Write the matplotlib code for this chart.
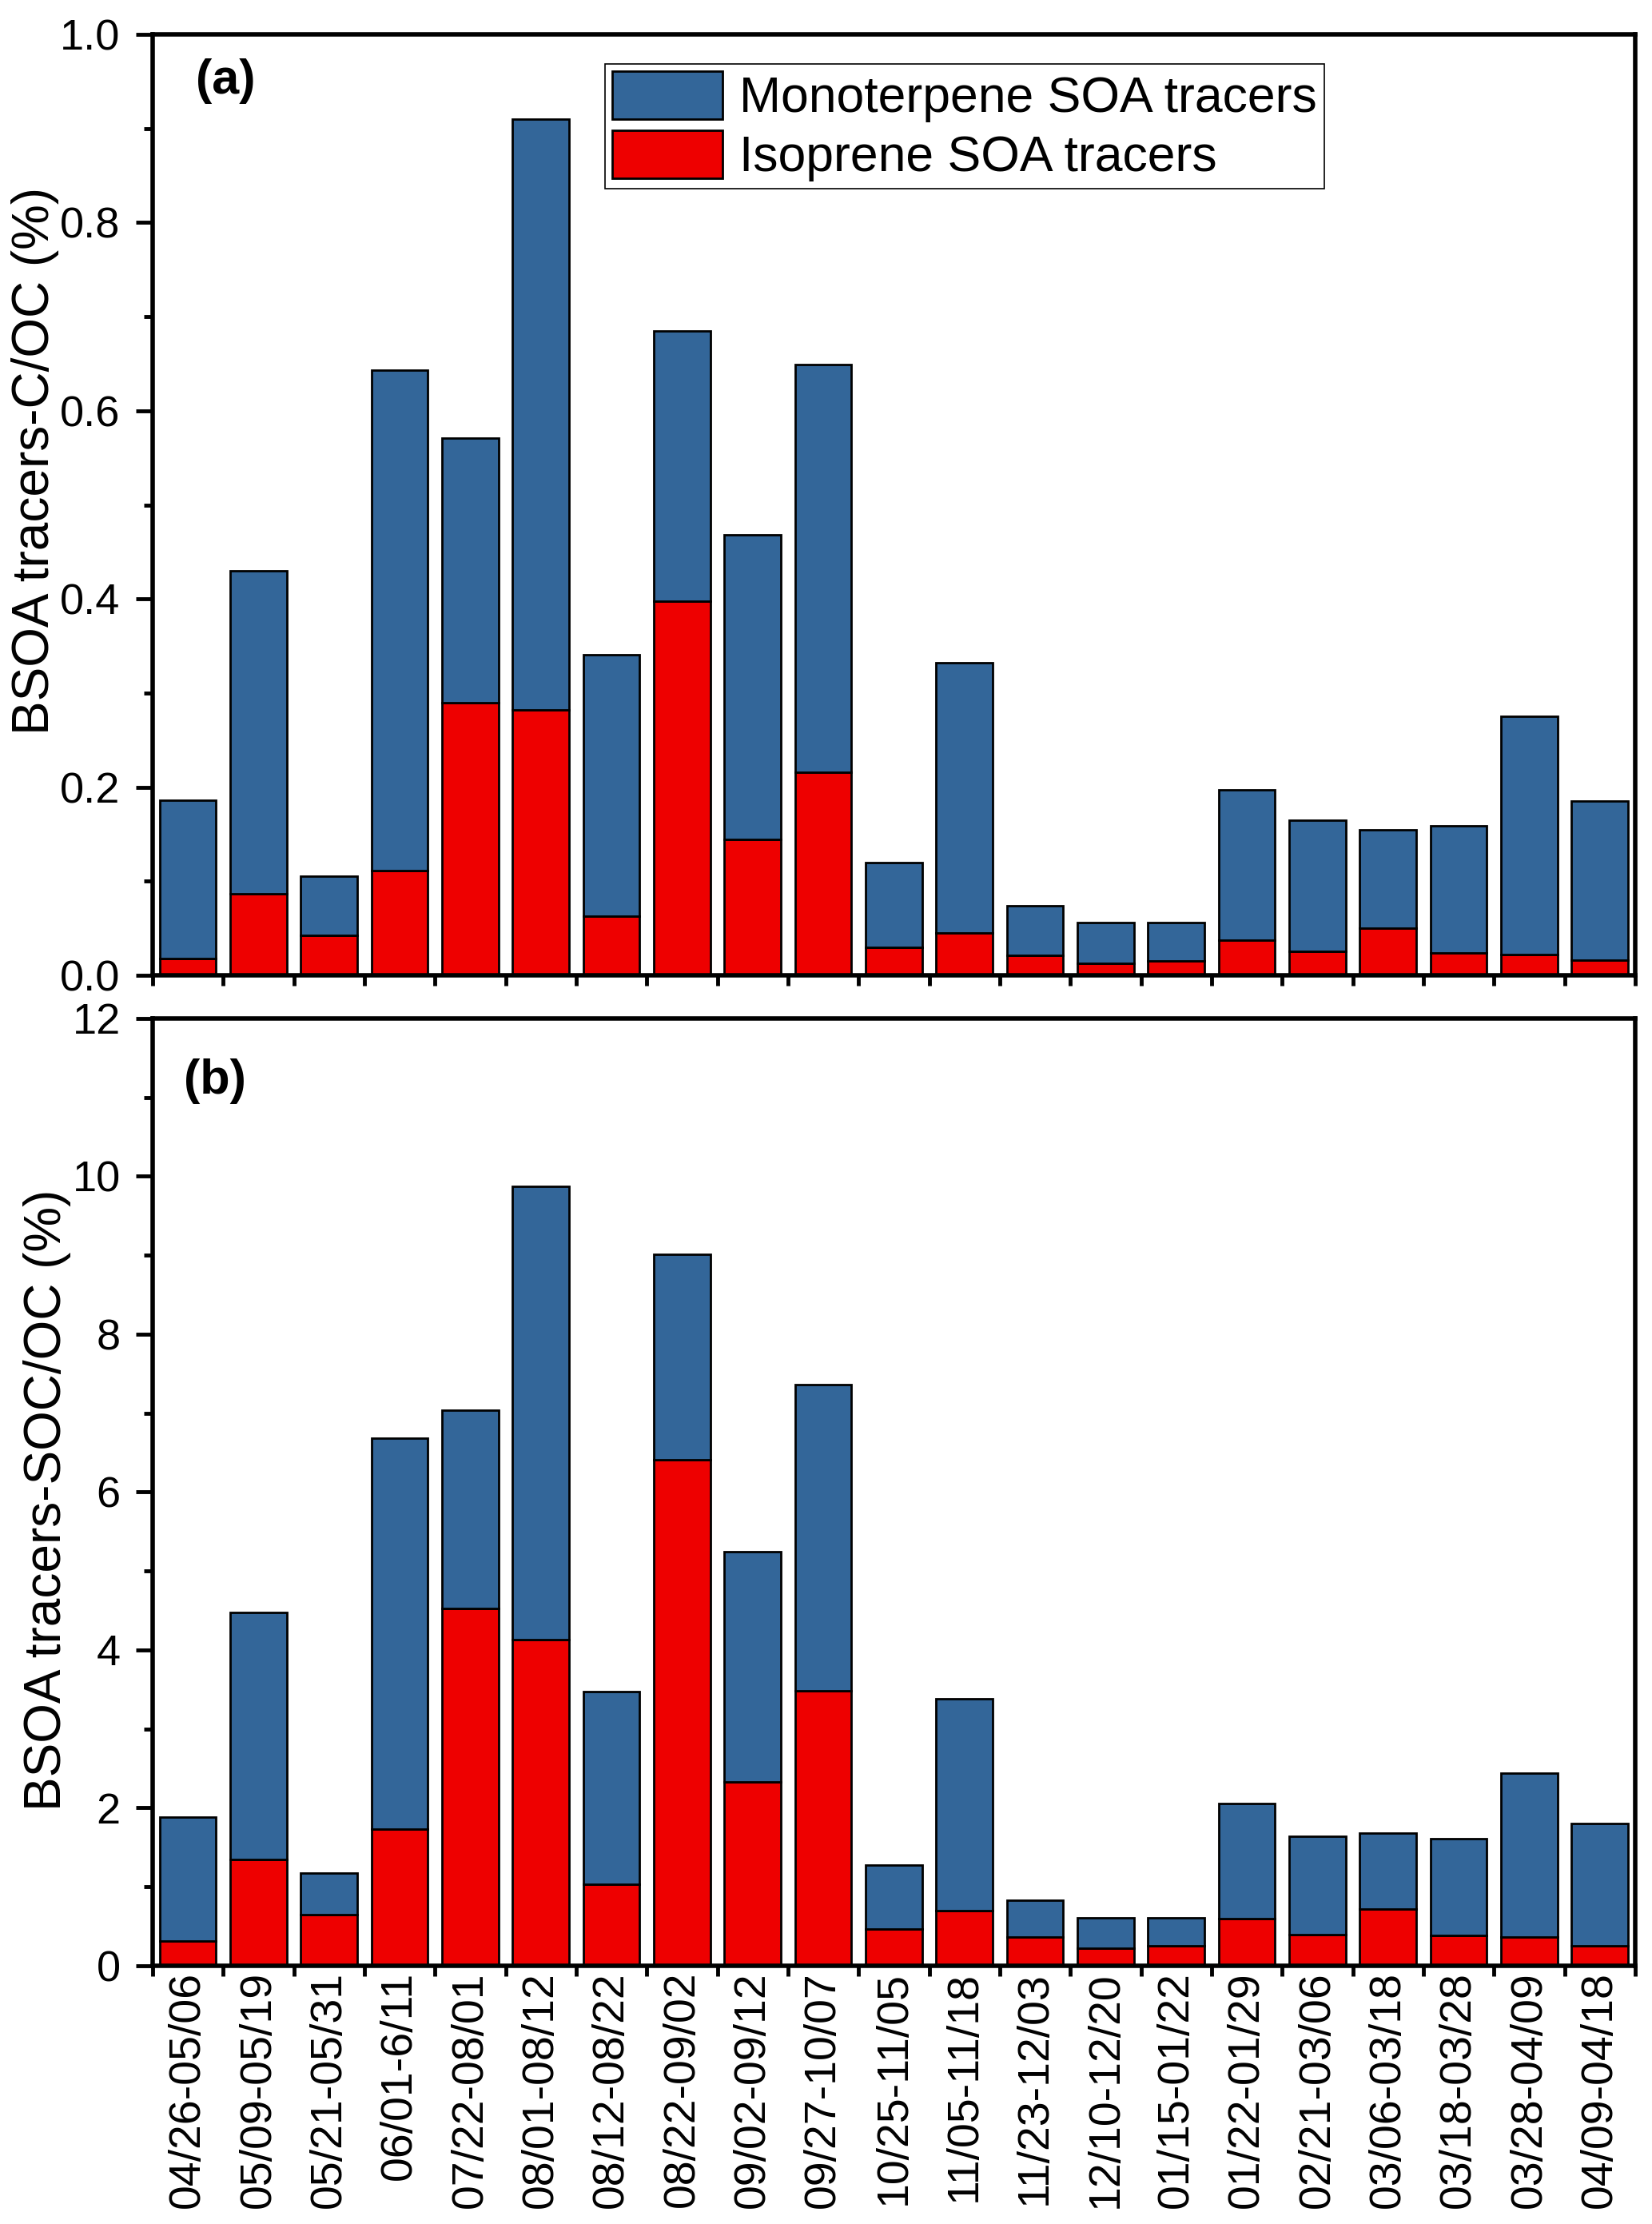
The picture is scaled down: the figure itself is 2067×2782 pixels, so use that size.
import matplotlib
matplotlib.use("Agg")
import matplotlib.pyplot as plt
import numpy as np
from matplotlib.ticker import MultipleLocator, FormatStrFormatter

plt.rcParams["font.family"] = ["Liberation Sans", "DejaVu Sans"]

periods = [
    "04/26-05/06", "05/09-05/19", "05/21-05/31", "06/01-6/11", "07/22-08/01",
    "08/01-08/12", "08/12-08/22", "08/22-09/02", "09/02-09/12", "09/27-10/07",
    "10/25-11/05", "11/05-11/18", "11/23-12/03", "12/10-12/20", "01/15-01/22",
    "01/22-01/29", "02/21-03/06", "03/06-03/18", "03/18-03/28", "03/28-04/09",
    "04/09-04/18",
]

# (a) tracers-C / OC (%): isoprene part and stacked total
iso_c = [0.018, 0.087, 0.042, 0.111, 0.290, 0.282, 0.063, 0.398, 0.144, 0.216,
         0.030, 0.045, 0.021, 0.013, 0.015, 0.037, 0.025, 0.050, 0.024, 0.022,
         0.016]
total_c = [0.186, 0.430, 0.105, 0.643, 0.571, 0.910, 0.341, 0.685, 0.468, 0.649,
           0.120, 0.332, 0.074, 0.056, 0.056, 0.197, 0.165, 0.155, 0.159, 0.275,
           0.185]

# (b) tracers-SOC / OC (%)
iso_soc = [0.31, 1.35, 0.65, 1.73, 4.53, 4.13, 1.03, 6.41, 2.33, 3.48,
           0.47, 0.70, 0.36, 0.22, 0.25, 0.60, 0.40, 0.72, 0.38, 0.36, 0.25]
total_soc = [1.88, 4.48, 1.17, 6.68, 7.04, 9.87, 3.47, 9.01, 5.25, 7.36,
             1.28, 3.38, 0.83, 0.61, 0.61, 2.06, 1.64, 1.68, 1.61, 2.44, 1.80]

BLUE = "#336699"
RED = "#EE0000"


def draw_panel(ax, iso, total, ymax, major, label, ylabel, label_pos, ylabel_y):
    x = np.arange(len(periods))
    iso = np.array(iso)
    mono = np.array(total) - iso
    ax.bar(x, iso, width=0.8, color=RED, edgecolor="black", linewidth=2,
           label="Isoprene SOA tracers", zorder=2)
    ax.bar(x, mono, width=0.8, bottom=iso, color=BLUE, edgecolor="black",
           linewidth=2, label="Monoterpene SOA tracers", zorder=2)

    ax.set_xlim(-0.5, len(periods) - 0.5)
    ax.set_ylim(0, ymax)
    ax.yaxis.set_major_locator(MultipleLocator(major))
    ax.yaxis.set_minor_locator(MultipleLocator(major / 2))
    ax.set_xticks(np.arange(-0.5, len(periods), 1.0))
    ax.set_xticklabels([])

    for sp in ax.spines.values():
        sp.set_linewidth(4)
    ax.tick_params(axis="y", which="major", direction="out", length=15, width=3.5,
                   labelsize=39, pad=14)
    ax.tick_params(axis="y", which="minor", direction="out", length=8, width=3.5)
    ax.tick_params(axis="x", which="major", direction="out", length=9, width=3.5)

    ax.set_ylabel(ylabel, fontsize=46, labelpad=1, y=ylabel_y)
    ax.text(label_pos[0], label_pos[1], label, transform=ax.transAxes,
            fontsize=44, fontweight="bold", ha="left", va="top")


fig = plt.figure(figsize=(20.67, 27.82), dpi=100)
ax_a = fig.add_axes([0.0924, 0.5615, 0.8974, 0.4230])
ax_b = fig.add_axes([0.0924, 0.1161, 0.8974, 0.4260])

ax_a.yaxis.set_major_formatter(FormatStrFormatter("%.1f"))
draw_panel(ax_a, iso_c, total_c, 1.0, 0.2, "(a)", "BSOA tracers-C/OC (%)",
           (0.029, 0.975), 0.547)
draw_panel(ax_b, iso_soc, total_soc, 12, 2, "(b)", "BSOA tracers-SOC/OC (%)",
           (0.021, 0.958), 0.492)

# category labels sit under the bar centres, ticks mark the boundaries
ax_b.set_xticks(np.arange(len(periods)), minor=True)
ax_b.set_xticklabels(periods, minor=True, rotation=90, fontsize=40)
ax_b.tick_params(axis="x", which="minor", length=0, pad=5)

handles, labels = ax_a.get_legend_handles_labels()
leg = ax_a.legend(handles[::-1], labels[::-1], loc="upper left",
                  bbox_to_anchor=(0.305, 0.969), borderaxespad=0, fontsize=45,
                  frameon=True, fancybox=False, framealpha=1, edgecolor="black",
                  handlelength=2.2, handleheight=1.1, handletextpad=0.34,
                  labelspacing=0.15, borderpad=0.15)
leg.get_frame().set_linewidth(1.2)

fig.savefig("out.png", dpi=100)
